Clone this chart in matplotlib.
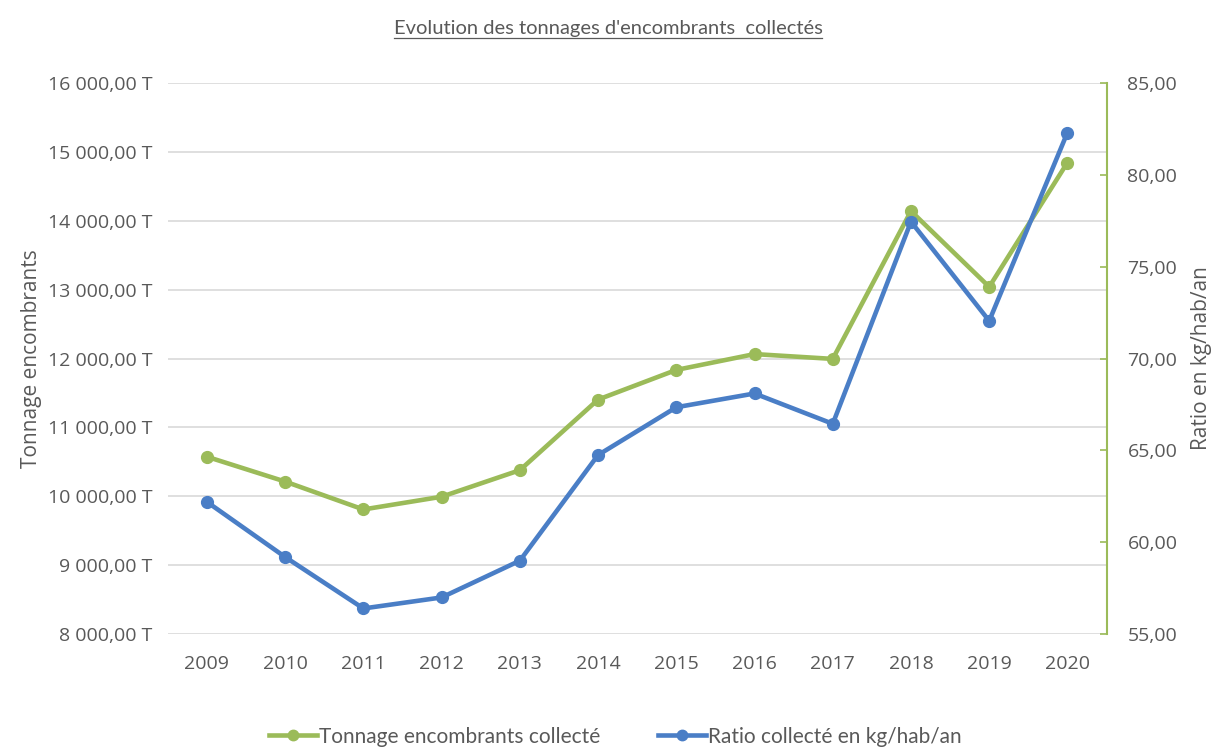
import numpy as np
import matplotlib
matplotlib.use("Agg")
import matplotlib.pyplot as plt
from matplotlib.ticker import FuncFormatter
from matplotlib.lines import Line2D

plt.rcParams['font.family'] = ['Open Sans', 'DejaVu Sans']

years = ['2009', '2010', '2011', '2012', '2013', '2014',
         '2015', '2016', '2017', '2018', '2019', '2020']
tonnage = [10575, 10215, 9810, 9995, 10380, 11405,
           11835, 12065, 11995, 14140, 13040, 14845]
ratio = [62.2, 59.2, 56.4, 57.0, 59.0, 64.75,
         67.35, 68.1, 66.45, 77.45, 72.05, 82.3]

green = '#9bbb59'
blue = '#4a7ec6'
txt = '#595959'

fig = plt.figure(figsize=(12.16, 7.47), dpi=100)
ax = fig.add_axes([0.138, 0.151, 0.772, 0.738])
ax2 = ax.twinx()

x = np.arange(len(years))
ax.plot(x, tonnage, color=green, lw=3.3, marker='o', ms=8.5, zorder=3)
ax2.plot(x, ratio, color=blue, lw=3.3, marker='o', ms=8.5, zorder=3)

ax.set_xlim(-0.5, len(years) - 0.5)
ax.set_ylim(8000, 16000)
ax.set_yticks(np.arange(8000, 16001, 1000))
ax2.set_ylim(55, 85)
ax2.set_yticks(np.arange(55, 86, 5))

def fmt_t(v, pos):
    s = f"{int(v):,}".replace(',', ' ')
    return s + ",00 T"

def fmt_r(v, pos):
    return f"{v:.2f}".replace('.', ',')

ax.yaxis.set_major_formatter(FuncFormatter(fmt_t))
ax2.yaxis.set_major_formatter(FuncFormatter(fmt_r))
ax.set_xticks(x)
ax.set_xticklabels(years)

ax.grid(axis='y', color='#d9d9d9', lw=1.2)
ax.set_axisbelow(True)
for sp in ['top', 'left', 'right', 'bottom']:
    ax.spines[sp].set_visible(False)
    ax2.spines[sp].set_visible(False)
ax2.spines['right'].set_visible(True)
ax2.spines['right'].set_color(green)
ax2.spines['right'].set_linewidth(1.5)

ax.tick_params(axis='both', length=0, labelsize=14, colors=txt, pad=11)
ax.tick_params(axis='x', pad=15)
ax2.tick_params(axis='y', length=5, width=1.2, color=green, labelsize=14,
                labelcolor=txt, pad=15, direction='in')

ax.set_ylabel('Tonnage encombrants', fontsize=15, color=txt, labelpad=4)
ax2.set_ylabel('Ratio en kg/hab/an', fontsize=15, color=txt, labelpad=10)

# title with underline
t = fig.text(0.5, 0.962, "Evolution des tonnages d'encombrants  collectés",
             ha='center', va='center', fontsize=14.5, color=txt,
             family=['Lato', 'DejaVu Sans'])
fig.canvas.draw()
bb = t.get_window_extent().transformed(fig.transFigure.inverted())
fig.add_artist(Line2D([bb.x0, bb.x1], [bb.y0 - 0.001, bb.y0 - 0.001],
                      color=txt, lw=0.9, transform=fig.transFigure))

handles = [Line2D([], [], color=green, lw=3.3, marker='o', ms=7.5),
           Line2D([], [], color=blue, lw=3.3, marker='o', ms=7.5)]
fig.legend(handles, ['Tonnage encombrants collecté', 'Ratio collecté en kg/hab/an'],
           loc='center', bbox_to_anchor=(0.506, 0.014), ncol=2, frameon=False,
           prop={'family': ['Lato', 'DejaVu Sans'], 'size': 15},
           labelcolor=txt, handlelength=2.3, handletextpad=0.1,
           columnspacing=2.8)

fig.savefig('out.png', dpi=100)
